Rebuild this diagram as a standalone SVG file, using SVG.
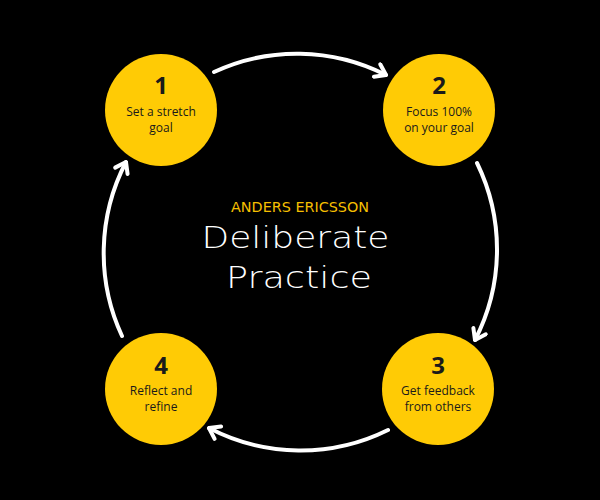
<svg xmlns="http://www.w3.org/2000/svg" width="600" height="500" viewBox="0 0 600 500">
<defs>
<style>
.node circle{fill:#FFCB05}
.num{font-family:"Open Sans","Liberation Sans",sans-serif;font-weight:700;font-size:24px;fill:#1a1a1a;text-anchor:middle}
.lbl{font-family:"Open Sans","Liberation Sans",sans-serif;font-size:12px;fill:#1a1a1a;text-anchor:middle}
.arc{fill:none;stroke:#fff;stroke-width:4;stroke-linecap:round}
.title{font-family:"DejaVu Sans","Liberation Sans",sans-serif;font-weight:200;fill:#fff;text-anchor:middle}
.sub{font-family:"DejaVu Sans","Liberation Sans",sans-serif;font-weight:400;fill:#F5BF00;text-anchor:middle}
</style>
<marker id="ah" viewBox="-14 -9 16 18" markerWidth="16" markerHeight="18" refX="0" refY="0" orient="auto" markerUnits="userSpaceOnUse">
<path d="M-10,-7 L0,0 L-10,7" fill="none" stroke="#fff" stroke-width="4" stroke-linecap="round" stroke-linejoin="round"/>
</marker>
</defs>
<rect width="600" height="500" fill="#000"/>
<g id="connectors">
<path class="arc" d="M214,72 A197,197 0 0 1 386,75" marker-end="url(#ah)"/>
<path class="arc" d="M477,163 A197,197 0 0 1 475,340" marker-end="url(#ah)"/>
<path class="arc" d="M388,430 A197,197 0 0 1 209,428" marker-end="url(#ah)"/>
<path class="arc" d="M122,336 A197,197 0 0 1 126,162" marker-end="url(#ah)"/>
</g>
<g id="title">
<text class="sub" x="300" y="212" font-size="13.5" textLength="138" lengthAdjust="spacingAndGlyphs">ANDERS ERICSSON</text>
<text class="title" x="295.5" y="248" font-size="31" textLength="188" lengthAdjust="spacingAndGlyphs">Deliberate</text>
<text class="title" x="299" y="288" font-size="31" textLength="146" lengthAdjust="spacingAndGlyphs">Practice</text>
</g>
<g id="node1" class="node">
<circle cx="161" cy="110" r="56"/>
<text class="num" x="161" y="94">1</text>
<text class="lbl" x="161" y="116">Set a stretch</text>
<text class="lbl" x="161" y="131.5">goal</text>
</g>
<g id="node2" class="node">
<circle cx="439" cy="110" r="56"/>
<text class="num" x="439" y="94">2</text>
<text class="lbl" x="439" y="116">Focus 100%</text>
<text class="lbl" x="439" y="131.5">on your goal</text>
</g>
<g id="node3" class="node">
<circle cx="438" cy="389" r="56"/>
<text class="num" x="438" y="374">3</text>
<text class="lbl" x="438" y="395">Get feedback</text>
<text class="lbl" x="438" y="411">from others</text>
</g>
<g id="node4" class="node">
<circle cx="161" cy="389" r="56"/>
<text class="num" x="161" y="374">4</text>
<text class="lbl" x="161" y="395">Reflect and</text>
<text class="lbl" x="161" y="411">refine</text>
</g>
</svg>
